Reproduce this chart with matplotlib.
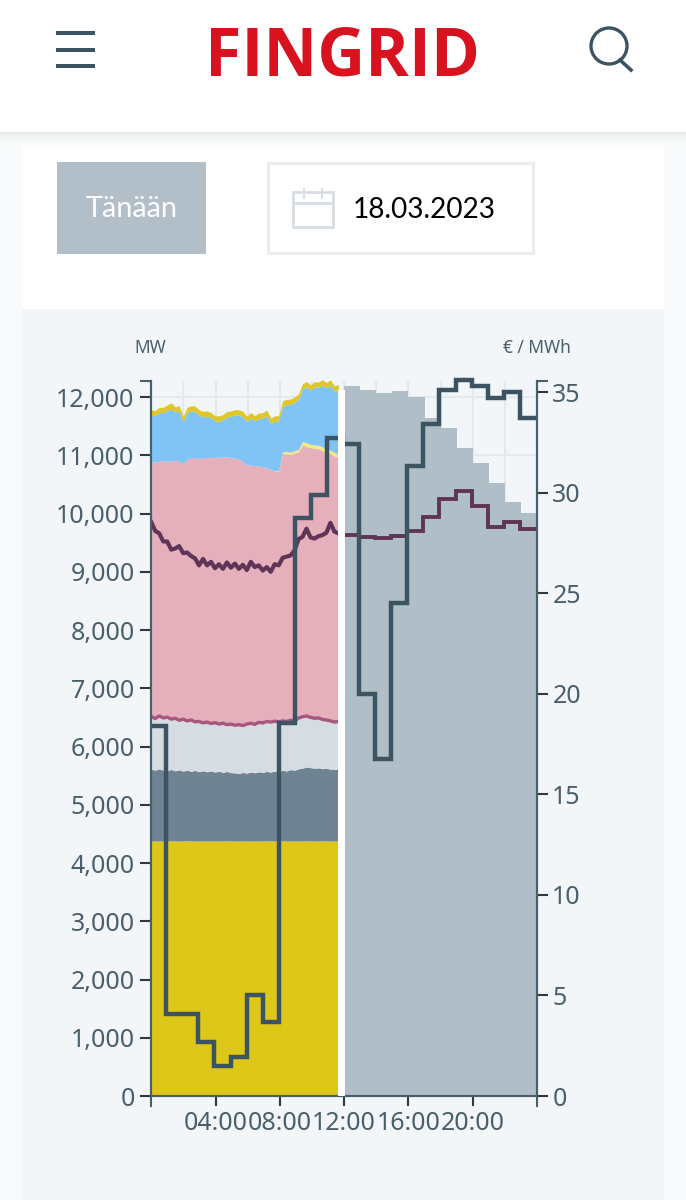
import numpy as np
import matplotlib
matplotlib.use("Agg")
import matplotlib.pyplot as plt
from matplotlib.patches import Rectangle, Circle

# values, left axis in MW, right axis in EUR/MWh
nuclear_top = [4378, 4380, 4376, 4379, 4381, 4378, 4380, 4377, 4379, 4382, 4380, 4378,
               4376, 4380, 4381, 4379, 4377, 4380, 4378, 4381, 4379, 4377, 4380, 4378,
               4381, 4379, 4376, 4380, 4378, 4381, 4379, 4377, 4380, 4382, 4378, 4380,
               4379, 4381, 4377, 4380, 4382, 4378, 4380, 4379, 4381, 4378, 4380, 4379]
hydro_top = [5610, 5595, 5618, 5592, 5590, 5605, 5582, 5598, 5578, 5594, 5575, 5590,
             5568, 5585, 5566, 5580, 5562, 5575, 5556, 5572, 5552, 5548, 5538, 5555,
             5542, 5562, 5550, 5568, 5555, 5572, 5560, 5578, 5568, 5592, 5580, 5604,
             5592, 5618, 5628, 5650, 5636, 5628, 5634, 5618, 5628, 5610, 5612, 5603]
other_top = [6515, 6480, 6525, 6490, 6505, 6470, 6485, 6450, 6470, 6440, 6455, 6425,
             6430, 6405, 6420, 6395, 6410, 6385, 6400, 6375, 6385, 6365, 6375, 6360,
             6385, 6400, 6380, 6415, 6405, 6430, 6420, 6435, 6425, 6440, 6430, 6450,
             6440, 6490, 6510, 6525, 6500, 6485, 6490, 6465, 6455, 6440, 6420, 6430]
pink_top = [10890, 10880, 10900, 10910, 10890, 10905, 10915, 10900, 10860, 10930, 10950, 10965,
            10940, 10955, 10960, 10965, 10960, 10970, 10965, 10975, 10960, 10950, 10940, 10890,
            10840, 10830, 10825, 10815, 10800, 10790, 10750, 10735, 10725, 11030, 11025, 11015,
            11040, 11060, 11180, 11150, 11130, 11120, 11110, 11080, 11050, 11030, 10990, 10960]
solar_top = [10890, 10880, 10900, 10910, 10890, 10905, 10915, 10900, 10860, 10930, 10950, 10965,
             10940, 10955, 10960, 10965, 10960, 10970, 10965, 10975, 10960, 10950, 10940, 10890,
             10840, 10830, 10825, 10815, 10800, 10790, 10750, 10740, 10735, 11060, 11065, 11055,
             11080, 11105, 11240, 11215, 11190, 11180, 11170, 11145, 11110, 11090, 11050, 11020]
blue_top = [11685, 11680, 11735, 11730, 11775, 11790, 11740, 11765, 11570, 11735, 11760, 11750,
            11690, 11660, 11670, 11640, 11590, 11580, 11610, 11660, 11670, 11690, 11690, 11660,
            11580, 11640, 11590, 11630, 11640, 11680, 11550, 11580, 11590, 11840, 11870, 11870,
            11910, 11960, 12140, 12170, 12120, 12170, 12170, 12200, 12160, 12200, 12100, 12120]
wind_top = [11780, 11770, 11825, 11825, 11865, 11900, 11830, 11855, 11670, 11825, 11850, 11845,
            11780, 11755, 11760, 11735, 11680, 11675, 11700, 11755, 11760, 11785, 11780, 11755,
            11670, 11735, 11680, 11725, 11730, 11775, 11640, 11675, 11680, 11935, 11960, 11965,
            12000, 12055, 12230, 12265, 12210, 12265, 12260, 12295, 12250, 12295, 12190, 12215]
consumption = [9850, 9700, 9660, 9520, 9520, 9380, 9400, 9440, 9320, 9330, 9270, 9230,
               9110, 9220, 9110, 9170, 9060, 9130, 9050, 9160, 9070, 9140, 9050, 9120,
               9030, 9170, 9080, 9110, 9020, 9080, 9000, 9130, 9110, 9240, 9260, 9280,
               9370, 9560, 9600, 9740, 9590, 9570, 9610, 9630, 9670, 9840, 9690, 9660]
forecast_top = [12197, 12122, 12076, 12110, 12007, 11636, 11470, 11120, 10863, 10520, 10194, 10015]
forecast_load = [9632, 9604, 9575, 9620, 9701, 9946, 10245, 10393, 10135, 9775, 9850, 9730]
price = [18.4, 4.1, 4.1, 2.7, 1.5, 1.95, 5.0, 3.7, 18.55, 28.75, 29.9, 32.7,
         32.4, 20.0, 16.75, 24.5, 31.3, 33.4, 35.1, 35.6, 35.3, 34.7, 35.0, 33.7]
mw_ticks = [0, 1000, 2000, 3000, 4000, 5000, 6000, 7000, 8000, 9000, 10000, 11000, 12000]
price_ticks = [0, 5, 10, 15, 20, 25, 30, 35]
time_ticks = [4, 8, 12, 16, 20]
time_labels = ["04:00", "08:00", "12:00", "16:00", "20:00"]

W, H = 686, 1200
SLATE = "#3C5462"
TEXT = "#4A5F6C"
FONT = "Noto Sans"
TICK_SIZE = 18
now = 11.64

fig = plt.figure(figsize=(W / 100, H / 100), dpi=100, facecolor="#F8FAFB")

# page furniture, in screenshot pixels
bg = fig.add_axes([0, 0, 1, 1])
bg.set_xlim(0, W)
bg.set_ylim(H, 0)
bg.axis("off")
bg.add_patch(Rectangle((22, 132), 642, 177, fc="white", ec="none"))
bg.add_patch(Rectangle((22, 309), 642, 891, fc="#F2F6F9", ec="none"))
for i, c in enumerate(["#E9ECEE", "#EFF1F3", "#F3F5F6", "#F7F8F9", "#FAFBFB"]):
    bg.add_patch(Rectangle((0, 132 + i * 2.5), W, 2.5, fc=c, ec="none"))
bg.add_patch(Rectangle((0, 0), W, 132, fc="white", ec="none"))

for y in [33, 50, 66]:
    bg.plot([55.5, 95], [y, y], color=SLATE, lw=2.9, solid_capstyle="butt")
bg.text(342.5, 49.5, "FINGRID", color="#D8121F", family="Open Sans", weight="bold",
        fontsize=47.7, ha="center", va="center_baseline")
bg.add_patch(Circle((609, 46), 18, fc="none", ec=SLATE, lw=2.4))
bg.plot([620, 631], [60, 70], color=SLATE, lw=2.6)

bg.add_patch(Rectangle((57, 162), 149, 92, fc="#B2BFC8", ec="none"))
bg.text(131.5, 209, "Tänään", color="white", family="Lato", fontsize=20.8, ha="center", va="center")
bg.add_patch(Rectangle((268, 163), 265, 90, fc="white", ec="#E9EDF0", lw=2.2))
bg.add_patch(Rectangle((293, 192), 40, 35, fc="white", ec="#D7DDE2", lw=2))
bg.plot([293, 333], [203, 203], color="#D7DDE2", lw=2)
for x in [304, 322]:
    bg.plot([x, x], [189, 198], color="#D7DDE2", lw=1.5)
bg.text(424, 209.5, "18.03.2023", color="black", family="Lato", fontsize=20.2, ha="center", va="center")
bg.text(150.5, 348, "MW", color=TEXT, family=FONT, fontsize=12.5, ha="center", va="center")
bg.text(536.5, 348, "€ / MWh", color=TEXT, family=FONT, fontsize=12.5, ha="center", va="center")

# chart
ax = fig.add_axes([151.3 / W, 1 - 1096 / H, (537 - 151.3) / W, (1096 - 381) / H], facecolor="none")
ax2 = ax.twinx()
ax.set_xlim(0, 24)
ax.set_ylim(0, 12275)
ax2.set_ylim(0, 35.55)

t = np.linspace(0, now, len(wind_top))
ax.fill_between(t, 0, nuclear_top, color="#DDC718", lw=0)
ax.fill_between(t, nuclear_top, hydro_top, color="#6E8492", lw=0)
ax.fill_between(t, hydro_top, other_top, color="#D5DCE2", lw=0)
ax.fill_between(t, other_top, pink_top, color="#E5B0BC", lw=0)
ax.fill_between(t, pink_top, solar_top, color="#F1E982", lw=0)
ax.fill_between(t, solar_top, blue_top, color="#80C4F5", lw=0)
ax.fill_between(t, blue_top, wind_top, color="#DFC729", lw=0, clip_on=False)
ax.plot(t, other_top, color="#A8567F", lw=2.4)
ax.plot(t, consumption, color="#5F3557", lw=3)

edges_fc = np.arange(12, 25)
ax.stairs(forecast_top, edges_fc, baseline=0, fill=True, color="#B0BEC7", lw=0)
ax.stairs(forecast_load, edges_fc - 0.07, baseline=None, color="#5F3557", lw=2.8)

ax.set_xticks(time_ticks, time_labels)
ax.set_yticks(mw_ticks, [f"{v:,}" for v in mw_ticks])
ax.set_yticks([12275], minor=True)
ax.grid(True, color="#E4E9ED", lw=1.5)
ax.set_xticks(np.arange(0, 25, 2), minor=True)
ax.grid(True, which="minor", axis="x", color="#E4E9ED", lw=1.5)
ax.grid(False, which="minor", axis="y")
ax.set_axisbelow(True)
ax.tick_params(axis="x", which="major", length=7.5, width=1.5, color="#2B3A42", labelcolor=TEXT,
               labelsize=TICK_SIZE, pad=3)
ax.tick_params(axis="x", which="minor", length=0)
ax.tick_params(axis="y", which="major", length=8, width=1.5, color="#2B3A42", labelcolor=TEXT,
               labelsize=TICK_SIZE, pad=4)
ax.tick_params(axis="y", which="minor", length=8, width=1.5, color=TEXT)
for lab in ax.get_xticklabels() + ax.get_yticklabels():
    lab.set_family(FONT)

# outer ticks at both ends of the time axis
for x in [0, 24]:
    ax.plot([x, x], [0, -10 / 715], transform=ax.get_xaxis_transform(), color=TEXT, lw=1.5, clip_on=False)

ax2.stairs(price, np.arange(25) - 0.07, baseline=None, color=SLATE, lw=3.2, clip_on=False)
ax2.axvspan(now, 12.05, ymin=0, ymax=12115 / 12275, color="white", lw=0, zorder=5)
ax2.set_yticks(price_ticks, [str(v) for v in price_ticks])
ax2.set_yticks([35.55], minor=True)
ax2.tick_params(axis="y", which="major", length=8, width=1.5, color="#2B3A42", labelcolor=TEXT,
                labelsize=TICK_SIZE, pad=3)
ax2.tick_params(axis="y", which="minor", length=8, width=1.5, color=TEXT)
for lab in ax2.get_yticklabels():
    lab.set_family(FONT)

for a in [ax, ax2]:
    a.spines["top"].set_visible(False)
    for s in ["left", "right", "bottom"]:
        a.spines[s].set_color(TEXT)
        a.spines[s].set_linewidth(1.5)

fig.savefig("out.png", dpi=100)
